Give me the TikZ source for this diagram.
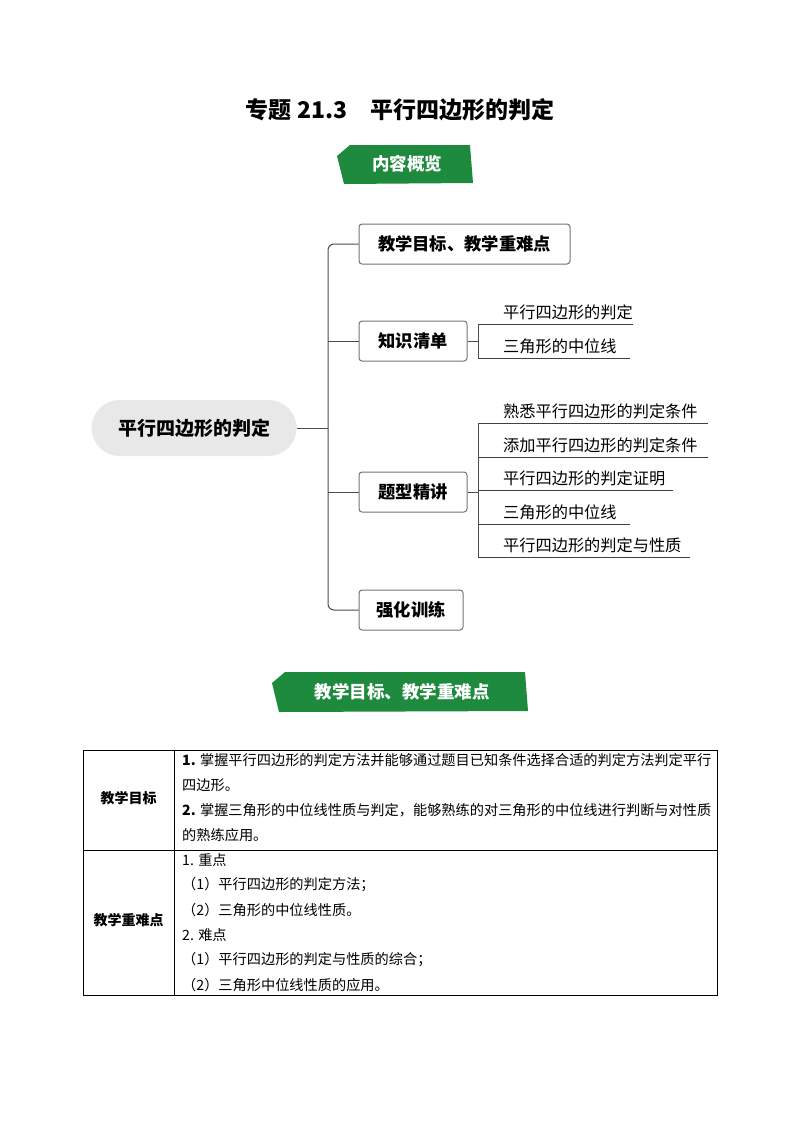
\documentclass[tikz,border=0pt]{standalone}
\usepackage{fontspec}
\setmainfont{Noto Sans CJK SC}
\begin{document}
\begin{tikzpicture}[x=1pt,y=-1pt,
  every node/.style={inner sep=0pt},
  box/.style={draw=black!55,line width=1pt,rounded corners=3pt,minimum height=40pt,font=\fontsize{17.3}{20}\selectfont\bfseries},
  leaf/.style={anchor=south west,font=\fontsize{16.2}{19}\selectfont,inner sep=0pt},
  ul/.style={draw=black!75,line width=1pt},
  conn/.style={draw=black!70,line width=1pt,rounded corners=6pt},
  cell/.style={anchor=west,font=\fontsize{14.2}{17}\selectfont}]
\definecolor{bgreen}{HTML}{1E8A3E}
\useasboundingbox (0,0) rectangle (800,1132);
\node (title) at (400,110) {\fontsize{23}{27}\selectfont\bfseries 专题 21.3\quad 平行四边形的判定};
% banner 1
\fill[bgreen] (350,145) -- (470,145) -- (473,183) -- (344,184) -- (337,156) -- cycle;
\node[text=white,font=\fontsize{17.5}{20}\selectfont\bfseries] (b1) at (407,164) {内容概览};
% root
\node[fill=black!9,rounded corners=28pt,minimum width=205pt,minimum height=56pt,font=\fontsize{19}{22}\selectfont\bfseries] (root) at (194,428) {平行四边形的判定};
\node[box,minimum width=211pt] (n1) at (464.5,244) {教学目标、教学重难点};
\node[box,minimum width=108pt] (n2) at (413,341) {知识清单};
\node[box,minimum width=108pt] (n3) at (413,492) {题型精讲};
\node[box,minimum width=104pt] (n4) at (411,610) {强化训练};
\coordinate (tk) at (328,428);
\draw[conn] (root.east) -- (tk);
\draw[conn] (n1.west) -| (tk);
\draw[conn] (n4.west) -| (tk);
\draw[conn] (n2.west) -- (328,341);
\draw[conn] (n3.west) -- (328,492);
% leaves of n2
\node[leaf] (l21) at (503,320) {平行四边形的判定};
\node[leaf] (l22) at (503,354) {三角形的中位线};
\draw[ul] (478,324) -- (633,324);
\draw[ul] (478,358) -- (630,358);
\draw[conn] (n2.east) -- (478,341);
\draw[conn] (478,324) -- (478,358);
% leaves of n3
\node[leaf] (l31) at (503,419) {熟悉平行四边形的判定条件};
\node[leaf] (l32) at (503,453) {添加平行四边形的判定条件};
\node[leaf] (l33) at (503,486) {平行四边形的判定证明};
\node[leaf] (l34) at (503,520) {三角形的中位线};
\node[leaf] (l35) at (503,553) {平行四边形的判定与性质};
\draw[ul] (478,423) -- (708,423);
\draw[ul] (478,457) -- (708,457);
\draw[ul] (478,490) -- (673,490);
\draw[ul] (478,524) -- (630,524);
\draw[ul] (478,557) -- (690,557);
\draw[conn] (n3.east) -- (478,492);
\draw[conn] (478,423) -- (478,557);
% banner 2
\fill[bgreen] (285,672) -- (525,672) -- (528,711) -- (279,712) -- (272,683) -- cycle;
\node[text=white,font=\fontsize{17.5}{20}\selectfont\bfseries] (b2) at (402,692) {教学目标、教学重难点};
% table
\draw[line width=0.8pt] (83,750) rectangle (717,995);
\draw[line width=0.8pt] (174,750) -- (174,995);
\draw[line width=0.8pt] (83,850) -- (717,850);
\node[font=\fontsize{14}{17}\selectfont\bfseries] (t1) at (128.5,798) {教学目标};
\node[font=\fontsize{14}{17}\selectfont\bfseries] (t2) at (128.5,920) {教学重难点};
\node[cell] (r1) at (182,760) {\textbf{1.} 掌握平行四边形的判定方法并能够通过题目已知条件选择合适的判定方法判定平行};
\node[cell] (r2) at (182,785) {四边形。};
\node[cell] (r3) at (182,810) {\textbf{2.} 掌握三角形的中位线性质与判定，能够熟练的对三角形的中位线进行判断与对性质};
\node[cell] (r4) at (182,835) {的熟练应用。};
\node[cell] (s1) at (182,860) {1. 重点};
\node[cell] (s2) at (182,885) {（1）平行四边形的判定方法；};
\node[cell] (s3) at (182,910) {（2）三角形的中位线性质。};
\node[cell] (s4) at (182,935) {2. 难点};
\node[cell] (s5) at (182,960) {（1）平行四边形的判定与性质的综合；};
\node[cell] (s6) at (182,985) {（2）三角形中位线性质的应用。};
\end{tikzpicture}
\end{document}
